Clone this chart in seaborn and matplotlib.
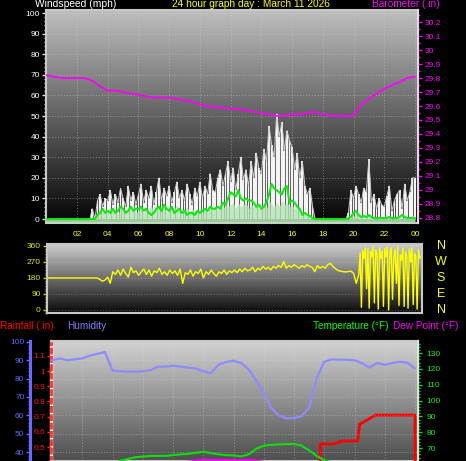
import numpy as np
import pandas as pd
import matplotlib
matplotlib.use("Agg")
import matplotlib.pyplot as plt
import matplotlib.transforms as mtrans
from matplotlib.ticker import MultipleLocator, FixedLocator, FuncFormatter
import seaborn as sns

# ---------------- data ----------------
hour_ticks = [2, 4, 6, 8, 10, 12, 14, 16, 18, 20, 22, 24]
hour_labels = ["02", "04", "06", "08", "10", "12", "14", "16", "18", "20", "22", "00"]

# wind, every 10 minutes 00:00 .. 24:00 (mph)
wind_gust = [0, 0, 0, 0, 0, 0,  0, 0, 0, 0, 0, 0,  0, 0, 0, 0, 0, 0,
             5, 0, 9, 12, 6, 10,  9, 14, 7, 12, 8, 15,  10, 6, 16, 9, 13, 7,
             12, 17, 8, 14, 10, 16,  7, 13, 20, 9, 15, 11,  16, 8, 13, 18, 10, 14,
             9, 17, 12, 7, 15, 11,  18, 10, 16, 12, 22, 14,  13, 20, 24, 16, 22, 28,
             18, 25, 14, 22, 30, 19,  24, 16, 28, 20, 32, 25,  22, 34, 28, 45, 36, 30,
             51, 40, 47, 33, 43, 38,  35, 24, 32, 20, 28, 16,  12, 15, 6, 0, 0, 0,
             0, 0, 0, 0, 0, 0,  0, 0, 0, 0, 3, 14,  10, 16, 12, 8, 15, 13,
             29, 8, 12, 5, 10, 7,  6, 11, 16, 4, 9, 12,  14, 5, 17, 9, 13, 20,  20]
wind_speed = [0, 0, 0, 0, 0, 0,  0, 0, 0, 0, 0, 0,  0, 0, 0, 0, 0, 0,
              0, 0, 2, 4, 3, 5,  4, 6, 3, 5, 2, 6,  5, 3, 6, 4, 7, 3,
              4, 6, 3, 5, 4, 7,  3, 5, 7, 4, 6, 3,  6, 4, 5, 7, 3, 5,
              4, 6, 3, 5, 4, 3,  5, 3, 6, 4, 7, 5,  6, 4, 8, 5, 7, 6,
              7, 8, 5, 8, 6, 7,  8, 5, 7, 6, 8, 5,  6, 8, 5, 9, 7, 6,
              8, 6, 9, 7, 8, 6,  7, 5, 6, 4, 3, 2,  2, 2, 1, 0, 0, 0,
              0, 0, 0, 0, 0, 0,  0, 0, 0, 0, 0, 2,  1, 3, 2, 1, 2, 1,
              2, 1, 2, 0, 1, 1,  1, 2, 1, 0, 1, 2,  1, 0, 2, 1, 1, 2,  1]
wind_avg = [0, 0, 0, 0, 0, 0,  0, 0, 0, 0, 0, 0,  0, 0, 0, 0, 0, 0,
            0, 0, 2, 3, 5, 3,  4, 3, 5, 3, 4, 6,  5, 3, 4, 6, 4, 5,
            5, 6, 4, 5, 3, 2,  3, 5, 6, 4, 7, 5,  4, 6, 3, 4, 5, 3,
            4, 2, 3, 3, 2, 4,  3, 4, 5, 4, 6, 5,  5, 6, 5, 8, 7, 10,
            13, 12, 11, 14, 10, 9,  10, 9, 9, 8, 6, 7,  5, 6, 8, 12, 17, 15,
            14, 13, 12, 15, 16, 8,  9, 8, 6, 5, 2, 3,  2, 1.5, 0.5, 0, 0, 0,
            0, 0, 0, 0, 0, 0,  0, 0, 0, 0, 0.5, 1,  3, 4, 2, 1, 1.5, 1,
            2, 1, 0.5, 0.5, 0.5, 0.5,  0.5, 0.5, 1, 0.5, 0.5, 0.5,  1, 2, 1, 0.5, 0.5, 0.5,  0.5]

# barometer, every 30 minutes (in)
barometer = [29.82, 29.81, 29.80, 29.80, 29.80, 29.80, 29.78, 29.74, 29.71, 29.71,
             29.70, 29.69, 29.68, 29.67, 29.66, 29.66, 29.66, 29.65, 29.64, 29.63,
             29.61, 29.60, 29.59, 29.59, 29.58, 29.58, 29.57, 29.56, 29.55, 29.54,
             29.53, 29.53, 29.54, 29.54, 29.55, 29.56, 29.54, 29.53, 29.53, 29.53,
             29.53, 29.61, 29.65, 29.69, 29.72, 29.75, 29.77, 29.80, 29.81]

# wind direction: every 10 min until 19:50, then every 5 min (degrees)
wind_dir_day = [180, 180, 180, 180, 180, 180,  180, 180, 180, 180, 180, 180,
                180, 180, 180, 180, 180, 180,  180, 180, 172, 162, 168, 185,
                150, 215, 200, 225, 195, 230,  205, 185, 240, 210, 220, 195,
                215, 230, 200, 225, 190, 220,  210, 235, 200, 215, 195, 225,
                205, 220, 195, 230, 150, 210,  200, 225, 190, 215, 205, 230,
                180, 215, 200, 225, 205, 190,  215, 205, 225, 200, 220, 210,
                225, 210, 230, 215, 235, 220,  225, 240, 215, 235, 225, 245,
                230, 240, 225, 245, 235, 250,  240, 272, 235, 250, 240, 255,
                245, 235, 250, 240, 255, 245,  240, 215, 250, 235, 245, 235,
                255, 262, 245, 232, 222, 218,  215, 214, 216, 218, 205, 150]
wind_dir_night = [200, 320, 15, 335, 290, 350, 120, 345, 10, 330, 300, 355,
                  40, 340, 310, 5, 350, 290, 330, 20, 345, 300, 355, 0,
                  320, 350, 60, 300, 340, 150, 355, 25, 310, 280, 350, 20,
                  330, 300, 10, 345, 270, 350, 30, 320, 300, 5, 340, 290, 300]

# humidity, temperature, dew point every 30 minutes
humidity = [90, 91, 90, 90.5, 91, 92.5, 93.5, 94.5, 84.5, 84, 83.8, 83.8, 84, 84.5,
            86.5, 86.5, 87, 86.5, 86, 85.5, 84, 83, 87.5, 89, 89.8, 88.5, 85, 79,
            72, 64, 60, 58.3, 58.5, 59.5, 64, 80, 89.2, 90.5, 90.3, 90.3, 90, 88.4,
            86, 88.5, 87.5, 88.5, 89.2, 88.6, 85.5]
temperature = [57, 57, 56.5, 56.5, 56, 56, 56, 57.5, 59.5, 62, 63, 64.2, 64.6, 65,
               65, 65, 65.5, 66, 66.3, 67, 67.6, 66.8, 66, 65.5, 65.3, 64.7, 66,
               69.5, 71.5, 72, 72.3, 72.5, 72.6, 71.5, 68.5, 65, 62.3, 61, 60, 59.5,
               58.5, 58, 57.5, 57, 57, 56.5, 56.5, 56, 56]
dew_point = [55, 55, 55, 55, 55, 55, 55, 55.5, 56, 56.5, 57, 57.5, 58, 58.5, 59, 59.5,
             60, 60.8, 61.3, 61.9, 62.3, 62.4, 62.4, 62.3, 62.2, 62.3, 62.4, 62.1,
             61.2, 60, 59, 58.5, 58, 58, 58, 58.5, 59, 59, 58.5, 58, 57.5, 57,
             56.5, 56, 56, 55.5, 55.5, 55, 55]

# daily rain total (in) at the times it changed
rain_hours = [0, 17.72, 17.74, 18.6, 19.2, 20.2, 20.35, 20.7, 21.2, 21.4, 24.0, 24.01]
rain_total = [0, 0, 0.52, 0.52, 0.54, 0.54, 0.65, 0.67, 0.70, 0.71, 0.71, 0]

wind_ticks = list(range(0, 101, 10))
baro_ticks = [28.8, 28.9, 29.0, 29.1, 29.2, 29.3, 29.4, 29.5, 29.6, 29.7, 29.8,
              29.9, 30.0, 30.1, 30.2]
dir_ticks = [0, 90, 180, 270, 360]
compass = ["N", "E", "S", "W", "N"]
hum_ticks = [40, 50, 60, 70, 80, 90, 100]
rain_ticks = [0.5, 0.6, 0.7, 0.8, 0.9, 1.0, 1.1, 1.2]
temp_ticks = [70, 80, 90, 100, 110, 120, 130]

# ---------------- style ----------------
sns.set_theme(style="dark")
plt.rcParams['font.family'] = ['Liberation Sans', 'DejaVu Sans']
plt.rcParams['axes.facecolor'] = 'black'
plt.rcParams['figure.facecolor'] = 'black'

W, H = 466, 461
fig = plt.figure(figsize=(W / 100, H / 100), dpi=100, facecolor='black')


def px_axes(x0, y0, x1, y1):
    return fig.add_axes([x0 / W, 1 - y1 / H, (x1 - x0) / W, (y1 - y0) / H])


def gradient(ax, top, bottom):
    x0, x1 = ax.get_xlim()
    y0, y1 = ax.get_ylim()
    g = np.linspace(top, bottom, 256).reshape(-1, 1)
    ax.imshow(g, cmap='gray', vmin=0, vmax=255, aspect='auto',
              extent=[x0, x1, y0, y1], origin='upper', zorder=-10,
              interpolation='bilinear')
    ax.set_xlim(x0, x1)
    ax.set_ylim(y0, y1)


def fmt_g(v, p):
    return f"{v:.1f}".rstrip('0').rstrip('.')


def ftext(x, y, s, color, size=7.6, ha='left'):
    fig.text(x / W, 1 - y / H, s, color=color, fontsize=size, ha=ha, va='center')


t10 = np.arange(len(wind_gust)) / 6
t30 = np.arange(len(barometer)) / 2
t_dir = np.concatenate([np.arange(len(wind_dir_day)) / 6,
                        20 + np.arange(len(wind_dir_night)) / 12])

# ---------------- panel 1: wind + barometer ----------------
ax1 = px_axes(46, 10, 418, 223)
ax1.set_xlim((46 - 46.3) / 15.36, (418 - 46.3) / 15.36)
ax1.set_ylim(-1.9, 101.5)
gradient(ax1, 190, 5)
for v in wind_ticks:
    ax1.axhline(v, color='#d8d8d8', lw=0.7, ls=(0, (1, 2)), alpha=0.45, zorder=-5)
for v in hour_ticks:
    ax1.axvline(v, color='#d8d8d8', lw=0.7, ls=(0, (1, 2)), alpha=0.45, zorder=-5)

ax1.fill_between(t10, -1.9, wind_gust, color='#9a9a9a', alpha=0.55, lw=0, zorder=1)
ax1.bar(t10, wind_gust, width=0.12, color='#f4f4f4', linewidth=0, zorder=2)
sns.lineplot(x=t10, y=wind_gust, ax=ax1, color='#d0d0d0', lw=0.7, zorder=2)
ax1.fill_between(t10, -1.9, wind_speed, color='#b4e4b4', alpha=0.8, lw=0, zorder=3)
sns.lineplot(x=t10, y=wind_avg, ax=ax1, color='#10e810', lw=1.5, zorder=4)

ax1.yaxis.set_major_locator(FixedLocator(wind_ticks))
ax1.yaxis.set_minor_locator(MultipleLocator(2))
ax1.tick_params(axis='y', which='both', left=True, colors='#e0e0e0', labelcolor='white',
                labelsize=6, direction='out', pad=1.5)
ax1.tick_params(axis='y', which='major', length=3, width=1)
ax1.tick_params(axis='y', which='minor', length=1.5, width=1)
ax1.set_xticks(hour_ticks, hour_labels)
ax1.tick_params(axis='x', length=0, labelcolor='yellow', labelsize=6, pad=5.5)
ax1.set_xlabel('')
ax1.set_ylabel('')
for s in ax1.spines.values():
    s.set_color('#c8c8c8')
    s.set_linewidth(1.5)

bx = ax1.twinx()
bx.set_ylim(28.764, 30.286)
sns.lineplot(x=t30, y=barometer, ax=bx, color='#ff00ff', lw=1.3)
bx.yaxis.set_major_locator(FixedLocator(baro_ticks))
bx.yaxis.set_major_formatter(FuncFormatter(fmt_g))
bx.yaxis.set_minor_locator(MultipleLocator(0.05))
bx.tick_params(axis='y', which='both', right=True, colors='#ff00ff', labelcolor='#ff00ff',
               labelsize=6, direction='out', pad=2)
bx.tick_params(axis='y', which='major', length=3, width=1)
bx.tick_params(axis='y', which='minor', length=1.5, width=1)
bx.set_ylabel('')
bx.grid(False)
for k, s in bx.spines.items():
    s.set_visible(k == 'right')
bx.spines['right'].set_color('#e8d8e8')
bx.spines['right'].set_linewidth(1.5)

ftext(35, 4, "Windspeed (mph)", 'white', 7.4)
ftext(172, 4, "24 hour graph day : March 11 2026", 'yellow', 7.3)
ftext(372, 4, "Barometer (.in)", '#ff00ff', 7.3)

# ---------------- panel 2: wind direction ----------------
ax2 = px_axes(47, 244, 422, 313)
ax2.set_xlim(-1 / 15.54, 24 + 1 / 15.54)
ax2.set_ylim(-17, 371)
gradient(ax2, 205, 10)
for v in dir_ticks:
    ax2.axhline(v, color='#d8d8d8', lw=0.7, ls=(0, (1, 2)), alpha=0.35, zorder=-5)
sns.lineplot(x=t_dir, y=np.array(wind_dir_day + wind_dir_night, dtype=float), ax=ax2,
             color='#ffff00', lw=1.0, sort=False, estimator=None)
ax2.yaxis.set_major_locator(FixedLocator(dir_ticks))
ax2.yaxis.set_minor_locator(MultipleLocator(15))
ax2.tick_params(axis='y', which='both', left=True, colors='#d8d800', labelcolor='#e6e600',
                labelsize=6, direction='out', pad=1.5)
ax2.tick_params(axis='y', which='major', length=3, width=1)
ax2.tick_params(axis='y', which='minor', length=1.5, width=1)
ax2.set_xticks([])
ax2.set_xlabel('')
ax2.set_ylabel('')
for s in ax2.spines.values():
    s.set_color('#c8c8c8')
    s.set_linewidth(1.5)
trans = mtrans.blended_transform_factory(fig.transFigure, ax2.transData)
for v, lab in zip(dir_ticks, compass):
    ax2.text(441 / W, v, lab, color='#ffff00', fontsize=9, ha='center', va='center',
             transform=trans)

# ---------------- panel 3: rain, humidity, temperature ----------------
ax3 = px_axes(51, 341, 418, 461)
ax3.set_xlim((51 - 52) / 15.125, (418 - 52) / 15.125)
ax3.set_ylim(0.408, 1.198)
gradient(ax3, 210, 78)

hx = ax3.twinx()
hx.set_ylim(35.1, 100.5)
tx = ax3.twinx()
tx.set_ylim(61.8, 137.6)

for v in hum_ticks:
    hx.axhline(v, color='#e0e0e0', lw=0.7, ls=(0, (1, 2)), alpha=0.4, zorder=0)
for v in hour_ticks:
    ax3.axvline(v, color='#e0e0e0', lw=0.7, ls=(0, (1, 2)), alpha=0.4, zorder=-5)

sns.lineplot(x=rain_hours, y=rain_total, ax=ax3, color='#ff0000', lw=2,
             sort=False, estimator=None, zorder=3)
sns.lineplot(x=t30, y=humidity, ax=hx, color='#8c8cff', lw=1.6)
sns.lineplot(x=t30, y=dew_point, ax=tx, color='#ff00ff', lw=1.5)
sns.lineplot(x=t30, y=temperature, ax=tx, color='#10dd10', lw=1.5)

ax3.yaxis.set_major_locator(FixedLocator(rain_ticks))
ax3.yaxis.set_major_formatter(FuncFormatter(fmt_g))
ax3.yaxis.set_minor_locator(MultipleLocator(0.05))
ax3.tick_params(axis='y', which='both', left=True, colors='#ff2020', labelcolor='#ff1010',
                labelsize=6, direction='out', pad=1)
ax3.tick_params(axis='y', which='major', length=3, width=1)
ax3.tick_params(axis='y', which='minor', length=0)
ax3.set_xticks([])
ax3.set_xlabel('')
ax3.set_ylabel('')
for s in ax3.spines.values():
    s.set_color('#c8c8c8')
    s.set_linewidth(1.5)
ax3.spines['left'].set_color('#ff3030')
ax3.spines['left'].set_linewidth(2)
ax3.spines['left'].set_linestyle((0, (1.5, 1.5)))
ax3.axvline(ax3.get_xlim()[0], color='white', lw=2.4, zorder=-1, clip_on=False)

hx.yaxis.set_ticks_position('left')
hx.yaxis.set_label_position('left')
hx.spines['left'].set_position(('outward', 21 * 0.72))
for k, s in hx.spines.items():
    s.set_visible(k == 'left')
hx.spines['left'].set_color('#6a6aff')
hx.spines['left'].set_linewidth(2.2)
hx.yaxis.set_major_locator(FixedLocator(hum_ticks))
hx.yaxis.set_minor_locator(MultipleLocator(2))
hx.tick_params(axis='y', which='both', left=True, right=False, colors='#6a6aff',
               labelcolor='#5c6cff', labelsize=6, direction='out', pad=1)
hx.tick_params(axis='y', which='major', length=3, width=1)
hx.tick_params(axis='y', which='minor', length=1.5, width=1)
hx.set_ylabel('')
hx.grid(False)

tx.yaxis.set_major_locator(FixedLocator(temp_ticks))
tx.yaxis.set_minor_locator(MultipleLocator(2))
tx.tick_params(axis='y', which='both', right=True, colors='#10e010', labelcolor='#10ee10',
               labelsize=6, direction='out', pad=3)
tx.tick_params(axis='y', which='major', length=3, width=1)
tx.tick_params(axis='y', which='minor', length=1.5, width=1)
tx.set_ylabel('')
tx.grid(False)
for k, s in tx.spines.items():
    s.set_visible(k == 'right')
tx.spines['right'].set_color('#e0e0e0')
tx.spines['right'].set_linewidth(1.5)

ftext(0, 326, "Rainfall (.in)", '#ff0000', 7.2)
ftext(67, 326, "Humidity", '#8080ff', 7.2)
ftext(313, 326, "Temperature (°F)", '#00ff00', 7.2)
ftext(393, 326, "Dew Point (°F)", '#ff00ff', 7.2)

fig.savefig("out.png", dpi=100, facecolor='black')
